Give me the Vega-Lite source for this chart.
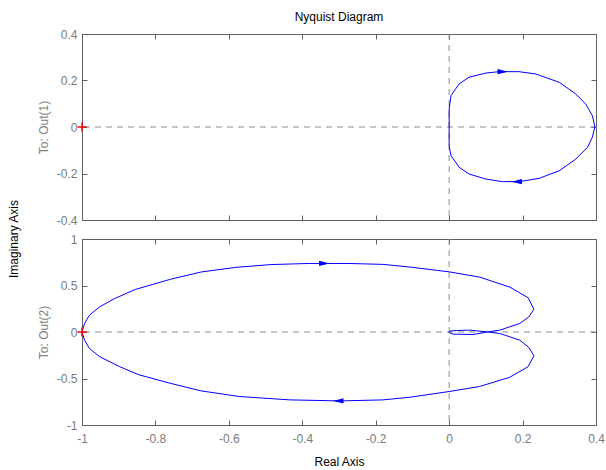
{
  "$schema": "https://vega.github.io/schema/vega-lite/v6.json",
  "padding": {"left": 7, "top": 10, "right": 0, "bottom": 0},
  "background": "white",
  "title": {"text": "Imaginary Axis", "orient": "left", "anchor": "middle", "font": "Liberation Sans", "fontSize": 12, "fontWeight": "normal", "color": "black", "offset": 16},
  "spacing": 5,
  "vconcat": [
    {
      "width": 514,
      "height": 186,
      "title": {"text": "Nyquist Diagram", "anchor": "middle", "font": "Liberation Sans", "fontSize": 12, "fontWeight": "normal", "color": "black", "offset": 4},
      "layer": [
        {
          "data": {"values": [{"zero": 0}]},
          "mark": {"type": "rule", "color": "#8c8c8c", "strokeDash": [6, 5], "strokeWidth": 1},
          "encoding": {
            "x": {"field": "zero", "type": "quantitative", "scale": {"domain": [-1, 0.4], "nice": false, "zero": false},
                  "axis": {"orient": "top", "values": [-1, -0.8, -0.6, -0.4, -0.2, 0, 0.2, 0.4], "labels": false, "title": null}}
          }
        },
        {
          "data": {"values": [{"zero": 0}]},
          "mark": {"type": "rule", "color": "#8c8c8c", "strokeDash": [6, 5], "strokeWidth": 1},
          "encoding": {
            "y": {"field": "zero", "type": "quantitative", "scale": {"domain": [-0.4, 0.4], "nice": false, "zero": false},
                  "axis": {"orient": "right", "values": [-0.4, -0.2, 0, 0.2, 0.4], "labels": false, "title": null}}
          }
        },
        {
          "data": {"values": [
            {"o": 0, "x": 0.0, "y": 0.0},
            {"o": 1, "x": 0.0, "y": 0.077},
            {"o": 2, "x": 0.005, "y": 0.135},
            {"o": 3, "x": 0.027, "y": 0.185},
            {"o": 4, "x": 0.054, "y": 0.214},
            {"o": 5, "x": 0.1, "y": 0.232},
            {"o": 6, "x": 0.136, "y": 0.238},
            {"o": 7, "x": 0.19, "y": 0.238},
            {"o": 8, "x": 0.236, "y": 0.228},
            {"o": 9, "x": 0.3, "y": 0.192},
            {"o": 10, "x": 0.345, "y": 0.142},
            {"o": 11, "x": 0.372, "y": 0.099},
            {"o": 12, "x": 0.39, "y": 0.049},
            {"o": 13, "x": 0.397, "y": 0.0},
            {"o": 14, "x": 0.39, "y": -0.044},
            {"o": 15, "x": 0.377, "y": -0.087},
            {"o": 16, "x": 0.345, "y": -0.138},
            {"o": 17, "x": 0.3, "y": -0.188},
            {"o": 18, "x": 0.245, "y": -0.221},
            {"o": 19, "x": 0.19, "y": -0.235},
            {"o": 20, "x": 0.145, "y": -0.235},
            {"o": 21, "x": 0.1, "y": -0.224},
            {"o": 22, "x": 0.054, "y": -0.202},
            {"o": 23, "x": 0.027, "y": -0.173},
            {"o": 24, "x": 0.005, "y": -0.123},
            {"o": 25, "x": 0.0, "y": -0.08},
            {"o": 26, "x": 0.0, "y": 0.0}
          ]},
          "mark": {"type": "line", "color": "#0000ff", "strokeWidth": 1},
          "encoding": {
            "x": {"field": "x", "type": "quantitative", "scale": {"domain": [-1, 0.4], "nice": false, "zero": false},
                  "axis": {"orient": "bottom", "values": [-1, -0.8, -0.6, -0.4, -0.2, 0, 0.2, 0.4], "labels": false, "title": null}},
            "y": {"field": "y", "type": "quantitative", "scale": {"domain": [-0.4, 0.4], "nice": false, "zero": false},
                  "axis": {"orient": "left", "values": [-0.4, -0.2, 0, 0.2, 0.4], "title": "To: Out(1)", "titleColor": "#808080"}},
            "order": {"field": "o", "type": "quantitative"}
          }
        },
        {
          "data": {"values": [
            {"x": 0.146, "y": 0.238, "dir": "right"},
            {"x": 0.184, "y": -0.235, "dir": "left"}
          ]},
          "mark": {"type": "point", "filled": true, "color": "#0000ff", "opacity": 1, "size": 110},
          "encoding": {
            "x": {"field": "x", "type": "quantitative", "scale": {"domain": [-1, 0.4], "nice": false, "zero": false}, "axis": null},
            "y": {"field": "y", "type": "quantitative", "scale": {"domain": [-0.4, 0.4], "nice": false, "zero": false}, "axis": null},
            "shape": {"field": "dir", "type": "nominal", "legend": null,
                      "scale": {"domain": ["right", "left"], "range": ["M-1,-0.5L1,0L-1,0.5Z", "M1,-0.5L-1,0L1,0.5Z"]}}
          }
        },
        {
          "data": {"values": [{"x": -1, "y": 0}]},
          "mark": {"type": "point", "shape": "M-1,0L1,0M0,-1L0,1", "filled": false, "color": "#ff0000", "strokeWidth": 1.5, "opacity": 1, "size": 81},
          "encoding": {
            "x": {"field": "x", "type": "quantitative", "scale": {"domain": [-1, 0.4], "nice": false, "zero": false}, "axis": null},
            "y": {"field": "y", "type": "quantitative", "scale": {"domain": [-0.4, 0.4], "nice": false, "zero": false}, "axis": null}
          }
        }
      ],
      "resolve": {"axis": {"x": "independent", "y": "independent"}}
    },
    {
      "width": 514,
      "height": 186,
      "layer": [
        {
          "data": {"values": [{"zero": 0}]},
          "mark": {"type": "rule", "color": "#8c8c8c", "strokeDash": [6, 5], "strokeWidth": 1},
          "encoding": {
            "x": {"field": "zero", "type": "quantitative", "scale": {"domain": [-1, 0.4], "nice": false, "zero": false},
                  "axis": {"orient": "top", "values": [-1, -0.8, -0.6, -0.4, -0.2, 0, 0.2, 0.4], "labels": false, "title": null}}
          }
        },
        {
          "data": {"values": [{"zero": 0}]},
          "mark": {"type": "rule", "color": "#8c8c8c", "strokeDash": [6, 5], "strokeWidth": 1},
          "encoding": {
            "y": {"field": "zero", "type": "quantitative", "scale": {"domain": [-1, 1], "nice": false, "zero": false},
                  "axis": {"orient": "right", "values": [-1, -0.5, 0, 0.5, 1], "labels": false, "title": null}}
          }
        },
        {
          "data": {"values": [
            {"o": 0, "x": -1.0, "y": 0.0},
            {"o": 1, "x": -0.993, "y": 0.091},
            {"o": 2, "x": -0.98, "y": 0.18},
            {"o": 3, "x": -0.952, "y": 0.27},
            {"o": 4, "x": -0.912, "y": 0.358},
            {"o": 5, "x": -0.855, "y": 0.457},
            {"o": 6, "x": -0.761, "y": 0.565},
            {"o": 7, "x": -0.676, "y": 0.645},
            {"o": 8, "x": -0.581, "y": 0.695},
            {"o": 9, "x": -0.486, "y": 0.725},
            {"o": 10, "x": -0.381, "y": 0.737},
            {"o": 11, "x": -0.275, "y": 0.737},
            {"o": 12, "x": -0.18, "y": 0.727},
            {"o": 13, "x": -0.106, "y": 0.698},
            {"o": 14, "x": -0.032, "y": 0.662},
            {"o": 15, "x": 0.0, "y": 0.647},
            {"o": 16, "x": 0.083, "y": 0.59},
            {"o": 17, "x": 0.165, "y": 0.483},
            {"o": 18, "x": 0.215, "y": 0.369},
            {"o": 19, "x": 0.231, "y": 0.244},
            {"o": 20, "x": 0.217, "y": 0.162},
            {"o": 21, "x": 0.192, "y": 0.091},
            {"o": 22, "x": 0.138, "y": 0.02},
            {"o": 23, "x": 0.101, "y": -0.002},
            {"o": 24, "x": 0.065, "y": -0.027},
            {"o": 25, "x": 0.01, "y": -0.023},
            {"o": 26, "x": 0.0, "y": -0.005},
            {"o": 27, "x": 0.001, "y": 0.009},
            {"o": 28, "x": 0.02, "y": 0.016},
            {"o": 29, "x": 0.056, "y": 0.02},
            {"o": 30, "x": 0.101, "y": 0.002},
            {"o": 31, "x": 0.138, "y": -0.016},
            {"o": 32, "x": 0.192, "y": -0.087},
            {"o": 33, "x": 0.217, "y": -0.166},
            {"o": 34, "x": 0.231, "y": -0.255},
            {"o": 35, "x": 0.215, "y": -0.373},
            {"o": 36, "x": 0.165, "y": -0.487},
            {"o": 37, "x": 0.083, "y": -0.586},
            {"o": 38, "x": 0.0, "y": -0.64},
            {"o": 39, "x": -0.106, "y": -0.701},
            {"o": 40, "x": -0.18, "y": -0.73},
            {"o": 41, "x": -0.297, "y": -0.741},
            {"o": 42, "x": -0.434, "y": -0.73},
            {"o": 43, "x": -0.571, "y": -0.694},
            {"o": 44, "x": -0.676, "y": -0.633},
            {"o": 45, "x": -0.761, "y": -0.55},
            {"o": 46, "x": -0.845, "y": -0.46},
            {"o": 47, "x": -0.898, "y": -0.372},
            {"o": 48, "x": -0.952, "y": -0.265},
            {"o": 49, "x": -0.98, "y": -0.176},
            {"o": 50, "x": -0.993, "y": -0.088},
            {"o": 51, "x": -1.0, "y": 0.0}
          ]},
          "mark": {"type": "line", "color": "#0000ff", "strokeWidth": 1},
          "encoding": {
            "x": {"field": "x", "type": "quantitative", "scale": {"domain": [-1, 0.4], "nice": false, "zero": false},
                  "axis": {"orient": "bottom", "values": [-1, -0.8, -0.6, -0.4, -0.2, 0, 0.2, 0.4], "title": "Real Axis", "titleColor": "black", "labelPadding": 13, "titlePadding": 12}},
            "y": {"field": "y", "type": "quantitative", "scale": {"domain": [-1, 1], "nice": false, "zero": false},
                  "axis": {"orient": "left", "values": [-1, -0.5, 0, 0.5, 1], "title": "To: Out(2)", "titleColor": "#808080"}},
            "order": {"field": "o", "type": "quantitative"}
          }
        },
        {
          "data": {"values": [
            {"x": -0.34, "y": 0.737, "dir": "right"},
            {"x": -0.302, "y": -0.741, "dir": "left"}
          ]},
          "mark": {"type": "point", "filled": true, "color": "#0000ff", "opacity": 1, "size": 110},
          "encoding": {
            "x": {"field": "x", "type": "quantitative", "scale": {"domain": [-1, 0.4], "nice": false, "zero": false}, "axis": null},
            "y": {"field": "y", "type": "quantitative", "scale": {"domain": [-1, 1], "nice": false, "zero": false}, "axis": null},
            "shape": {"field": "dir", "type": "nominal", "legend": null,
                      "scale": {"domain": ["right", "left"], "range": ["M-1,-0.5L1,0L-1,0.5Z", "M1,-0.5L-1,0L1,0.5Z"]}}
          }
        },
        {
          "data": {"values": [{"x": -1, "y": 0}]},
          "mark": {"type": "point", "shape": "M-1,0L1,0M0,-1L0,1", "filled": false, "color": "#ff0000", "strokeWidth": 1.5, "opacity": 1, "size": 81},
          "encoding": {
            "x": {"field": "x", "type": "quantitative", "scale": {"domain": [-1, 0.4], "nice": false, "zero": false}, "axis": null},
            "y": {"field": "y", "type": "quantitative", "scale": {"domain": [-1, 1], "nice": false, "zero": false}, "axis": null}
          }
        }
      ],
      "resolve": {"axis": {"x": "independent", "y": "independent"}}
    }
  ],
  "config": {
    "view": {"stroke": "#606060", "strokeWidth": 1},
    "axis": {
      "domain": false,
      "grid": false,
      "ticks": true,
      "tickSize": -5,
      "tickColor": "#606060",
      "tickWidth": 1,
      "minExtent": 0,
      "labelColor": "#7a7a7a",
      "labelFont": "Liberation Sans",
      "labelFontSize": 12,
      "labelPadding": 10,
      "labelFlush": false,
      "labelOverlap": false,
      "labelBound": false,
      "labelExpr": "'' + datum.value",
      "titleFont": "Liberation Sans",
      "titleFontSize": 12,
      "titleFontWeight": "normal",
      "titlePadding": 6
    }
  }
}
